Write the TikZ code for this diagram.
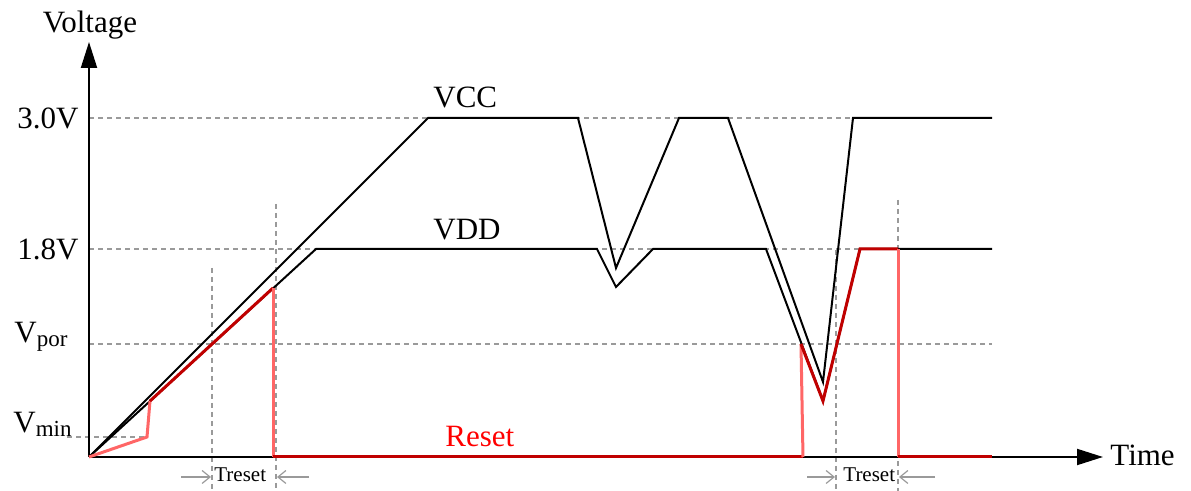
\documentclass[tikz,border=0pt]{standalone}
\usepackage{fontspec}
\setmainfont{Liberation Serif}
\usetikzlibrary{arrows.meta}
\definecolor{darkred}{HTML}{C00000}
\definecolor{lightred}{HTML}{FF6666}
\definecolor{gridgray}{HTML}{9A9A9A}
\definecolor{labelred}{HTML}{FF0000}
\begin{document}
\begin{tikzpicture}[x=0.5pt,y=-0.5pt,
  axisline/.style={line width=1pt, -{Triangle[length=13pt,width=8pt]}},
  guide/.style={gridgray, line width=0.6pt, dash pattern=on 2.5pt off 2pt},
  sig/.style={black, line width=1pt, line join=miter},
  rstdark/.style={darkred, line width=1.5pt},
  rstlight/.style={lightred, line width=1.5pt},
  lbl/.style={font=\fontsize{15.5}{18}\selectfont, inner sep=0pt},
  smalllbl/.style={font=\fontsize{10.5}{12}\selectfont, inner sep=0pt},
  tarrow/.style={gridgray, line width=0.6pt, -{Straight Barb[length=4pt,width=6.5pt]}}]
\useasboundingbox (0,0) rectangle (1191,491);

% key coordinates
\coordinate (O) at (89,457);
\coordinate (Ytip) at (89,42);
\coordinate (Xtip) at (1103,457);

% guide lines
\draw[guide] (89,118) -- (992,118);
\draw[guide] (89,249) -- (992,249);
\draw[guide] (89,344) -- (992,344);
\draw[guide] (67,437) -- (147,437);
\draw[guide] (212,268) -- (212,491);
\draw[guide] (276,204) -- (276,491);
\draw[guide] (836,250) -- (836,491);
\draw[guide] (898,200) -- (898,491);

% axes
\draw[axisline] (O) -- (Ytip);
\draw[axisline] (O) -- (Xtip);

% VCC
\coordinate (c1) at (428,118);
\coordinate (c2) at (578,118);
\coordinate (c3) at (616,268);
\coordinate (c4) at (679,118);
\coordinate (c5) at (728,118);
\coordinate (c6) at (823,382);
\coordinate (c7) at (853,118);
\coordinate (c8) at (992,118);
\draw[sig] (O) -- (c1) -- (c2) -- (c3) -- (c4) -- (c5) -- (c6) -- (c7) -- (c8);

% VDD
\coordinate (d1) at (316,249);
\coordinate (d2) at (597,249);
\coordinate (d3) at (616,287);
\coordinate (d4) at (653,249);
\coordinate (d5) at (766,249);
\coordinate (d6) at (823,401);
\coordinate (d7) at (860,249);
\coordinate (d8) at (992,249);
\draw[sig] (O) -- (d1) -- (d2) -- (d3) -- (d4) -- (d5) -- (d6) -- (d7) -- (d8);

% Reset
\coordinate (r1) at (147,437);
\coordinate (r2) at (150,401);
\coordinate (r3) at (273,288);
\coordinate (r4) at (273,457);
\coordinate (r5) at (803,457);
\coordinate (r6) at (801,344);
\coordinate (r7) at (898,249);
\coordinate (r8) at (898,457);
\coordinate (r9) at (992,457);
\draw[rstlight] (O) -- (r1) -- (r2);
\draw[rstdark] (r2) -- (r3);
\draw[rstlight] (r3) -- (r4);
\draw[rstdark] (r4) -- (r5);
\draw[rstlight] (r5) -- (r6);
\draw[rstdark] (r6) -- (d6) -- (d7) -- (r7);
\draw[rstlight] (r7) -- (r8);
\draw[rstdark] (r8) -- (r9);

% labels
\node[lbl, anchor=base] (lv) at (90,33) {Voltage};
\node[lbl, anchor=base west] (lt) at (1110,466) {Time};
\node[lbl, anchor=east] (l30) at (79,118) {3.0V};
\node[lbl, anchor=east] (l18) at (79,249) {1.8V};
\node[lbl, anchor=base west] (lpor) at (14,343) {V\raisebox{-2pt}{\fontsize{11.5}{12}\selectfont por}};
\node[lbl, anchor=base west] (lmin) at (13,433) {V\raisebox{-2pt}{\fontsize{11.5}{12}\selectfont min}};
\node[lbl, anchor=base west] (lvcc) at (433,108) {VCC};
\node[lbl, anchor=base west] (lvdd) at (433,240) {VDD};
\node[lbl, anchor=base west, text=labelred] (lrst) at (445,447) {Reset};

% Treset markers
\coordinate (ta1) at (181,477);
\coordinate (ta2) at (211,477);
\coordinate (ta3) at (309,477);
\coordinate (ta4) at (277,477);
\draw[tarrow] (ta1) -- (ta2);
\draw[tarrow] (ta3) -- (ta4);
\node[smalllbl, anchor=base west] (tr1) at (214,482) {Treset};
\coordinate (tb1) at (807,477);
\coordinate (tb2) at (835,477);
\coordinate (tb3) at (935,477);
\coordinate (tb4) at (899,477);
\draw[tarrow] (tb1) -- (tb2);
\draw[tarrow] (tb3) -- (tb4);
\node[smalllbl, anchor=base west] (tr2) at (843,482) {Treset};
\end{tikzpicture}
\end{document}
